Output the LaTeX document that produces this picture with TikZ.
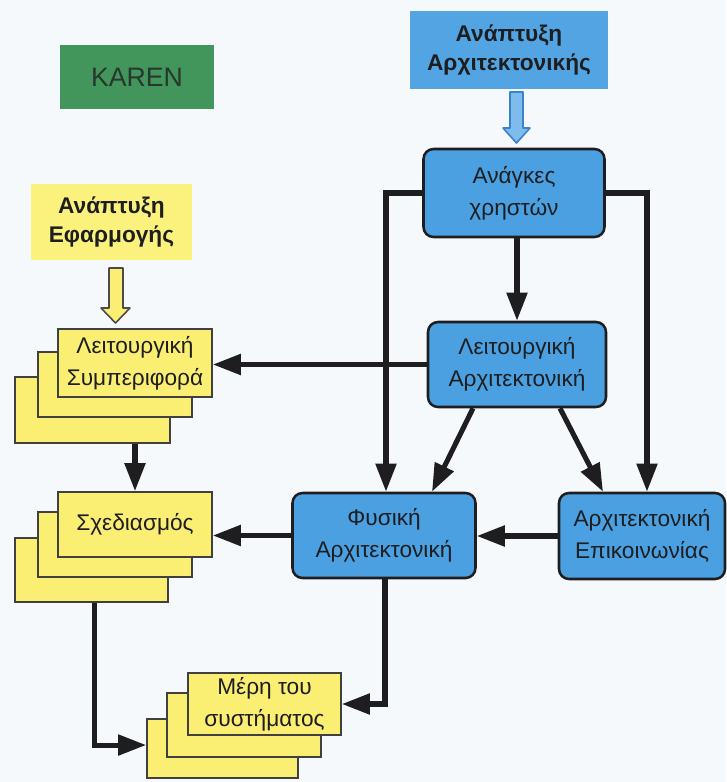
\documentclass[tikz,border=0pt]{standalone}
\usepackage{fontspec}
\setmainfont{Liberation Sans}
\usetikzlibrary{arrows.meta,calc}
\definecolor{bg}{RGB}{245,249,252}
\definecolor{kgreen}{RGB}{66,150,92}
\definecolor{hblue}{RGB}{82,165,226}
\definecolor{bblue}{RGB}{75,160,225}
\definecolor{yel}{RGB}{250,238,115}
\definecolor{hyel}{RGB}{250,242,125}
\definecolor{ink}{RGB}{30,30,32}
\definecolor{aline}{RGB}{60,130,200}
\definecolor{afill}{RGB}{125,188,236}
\begin{document}
\begin{tikzpicture}[x=0.75pt,y=-0.75pt,
  every node/.style={text=ink, font=\fontsize{17}{24}\selectfont, align=center, inner sep=0pt},
  sz/.style 2 args={minimum width=#1*0.75pt, minimum height=#2*0.75pt},
  header/.style={font=\bfseries\fontsize{17}{22}\selectfont},
  bluebox/.style={draw=ink, line width=1.9pt, fill=bblue, rounded corners=7.5pt},
  ybox/.style={draw=ink!85, line width=1.2pt, fill=yel},
  conn/.style={draw=ink, line width=3.8pt, -{Triangle[length=21pt,width=15pt]}},
  hollowy/.style={draw=ink!80, line width=1.2pt, fill=yel, line join=round},
  hollowb/.style={draw=aline, line width=1.2pt, fill=afill, line join=round}]
\fill[bg] (0,0) rectangle (726,782);
\useasboundingbox (0,0) rectangle (726,782);

% headers
\node[fill=kgreen, sz={154}{64}, font=\fontsize{20}{24}\selectfont, text={rgb,255:red,40;green,55;blue,45}] (karen) at (137,77) {KAREN};
\node[fill=hyel, sz={161}{76}, header] (appdev) at (111.5,222) {Ανάπτυξη\\Εφαρμογής};
\node[fill=hblue, sz={198}{78}, header] (archdev) at (509,50) {Ανάπτυξη\\Αρχιτεκτονικής};

% blue boxes
\node[bluebox, sz={181}{88}] (needs) at (514,193) {Ανάγκες\\χρηστών};
\node[bluebox, sz={178}{85}] (funcarch) at (517,364.5) {Λειτουργική\\Αρχιτεκτονική};
\node[bluebox, sz={183}{85}] (phys) at (384,535.5) {Φυσική\\Αρχιτεκτονική};
\node[bluebox, sz={166}{86}] (comm) at (642,536) {Αρχιτεκτονική\\Επικοινωνίας};

% yellow stacks
\node[ybox, sz={155}{66}] (funcbehB) at (92.5,410) {};
\node[ybox, sz={154}{65}] (funcbehM) at (115,384.5) {};
\node[ybox, sz={154}{68}] (funcbeh) at (135,363) {Λειτουργική\\Συμπεριφορά};

\node[ybox, sz={153}{64}] (designB) at (91.5,570) {};
\node[ybox, sz={154}{65}] (designM) at (115,544.5) {};
\node[ybox, sz={154}{65}] (design) at (135,524.5) {Σχεδιασμός};

\node[ybox, sz={151}{59}] (partsB) at (222.5,748.5) {};
\node[ybox, sz={154}{64}] (partsM) at (244,725) {};
\node[ybox, sz={153}{62}] (parts) at (264.5,704) {Μέρη του\\συστήματος};

% hollow arrows
\coordinate (btip) at (516.5,143);
\draw[hollowb] (510,92) -- (523,92) -- (523,128) -- (530,128) -- (btip) -- (503,128) -- (510,128) -- cycle;
\coordinate (ytip) at (115.5,323);
\draw[hollowy] (109,268) -- (123,268) -- (123,308) -- (130,308) -- (ytip) -- (101,308) -- (109,308) -- cycle;

% connectors
\draw[conn] (needs.south -| funcarch.north) -- (funcarch.north);
\draw[conn] (needs.west) -| ([xshift=1.5pt]phys.north);
\draw[conn] (needs.east) -| ([xshift=3.75pt]comm.north);
\draw[conn] ([xshift=-33pt]funcarch.south) -- ([xshift=36pt]phys.north);
\draw[conn] ([xshift=32.25pt]funcarch.south) -- ([xshift=-29.25pt]comm.north);
\draw[conn] (comm.west) -- (comm.west -| phys.east);
\draw[conn] (funcarch.west) -- (funcarch.west -| funcbeh.east);
\draw[conn] (design.north |- funcbehB.south) -- (design.north);
\draw[conn] (phys.west) -- (phys.west -| design.east);
\draw[conn] ([xshift=0.75pt]phys.south) |- (parts.east);
\draw[conn] ([xshift=1.9pt]designB.south) |- ([yshift=2.6pt]partsB.west);
\end{tikzpicture}
\end{document}
